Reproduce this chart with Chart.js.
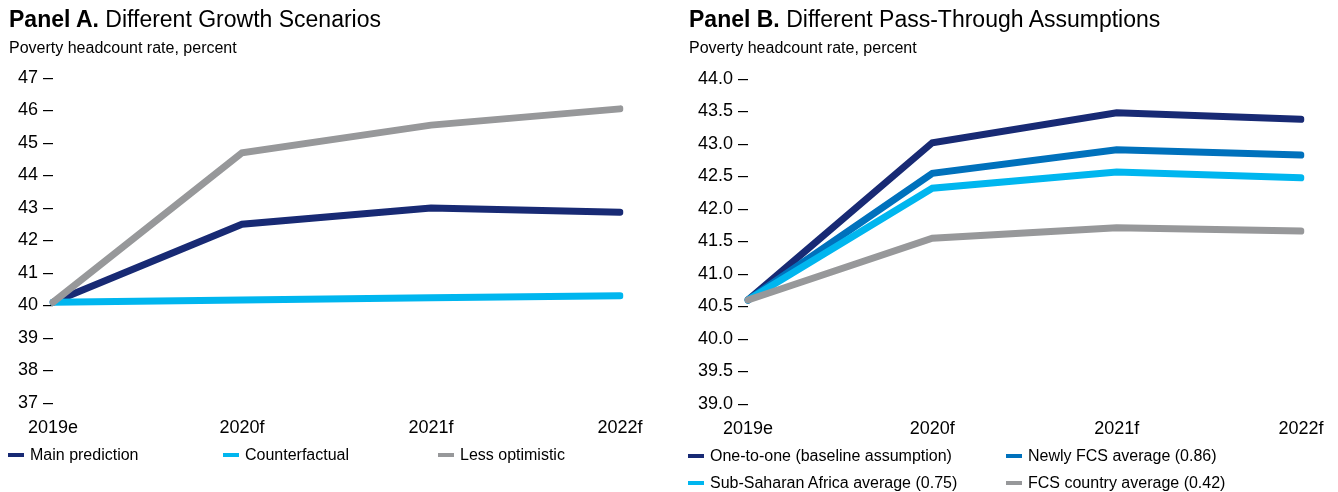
<!DOCTYPE html>
<html>
<head>
<meta charset="utf-8">
<script src="https://cdn.jsdelivr.net/npm/chart.js@4.4.0/dist/chart.umd.min.js"></script>
<style>
  body { margin: 0; width: 1338px; height: 492px; background: #fff; position: relative; overflow: hidden;
         font-family: Arial, "Liberation Sans", sans-serif; color: #000; }
  .panel { position: absolute; top: 0; width: 669px; height: 492px; }
  .panel canvas { position: absolute; left: 0; top: 0; }
  .title { position: absolute; top: 8px; font-size: 23px; line-height: 23px; white-space: nowrap; }
  .sub { position: absolute; top: 40px; font-size: 16px; line-height: 16px; white-space: nowrap; }
  .item { position: absolute; height: 20px; display: flex; align-items: center; white-space: nowrap; font-size: 16px; }
  .item i { display: inline-block; width: 16px; height: 4px; margin-right: 6px; }
</style>
</head>
<body>

<div class="panel" id="panelA" style="left:0">
  <canvas id="chartA" width="669" height="492"></canvas>
  <div class="title" style="left:9px"><b>Panel A.</b> Different Growth Scenarios</div>
  <div class="sub" style="left:9px">Poverty headcount rate, percent</div>
</div>

<div class="panel" id="panelB" style="left:669px">
  <canvas id="chartB" width="669" height="492"></canvas>
  <div class="title" style="left:20px"><b>Panel B.</b> Different Pass-Through Assumptions</div>
  <div class="sub" style="left:20px">Poverty headcount rate, percent</div>
</div>

<script>
const years = ['2019e', '2020f', '2021f', '2022f'];

// Panel A - growth scenarios
const mainPrediction = [40.1, 42.5, 43.0, 42.87];
const counterfactual = [40.1, 40.17, 40.24, 40.3];
const lessOptimistic = [40.1, 44.7, 45.55, 46.05];

// Panel B - pass-through assumptions
const oneToOne   = [40.6, 43.02, 43.48, 43.38];
const newlyFcs   = [40.6, 42.55, 42.91, 42.83];
const ssaAverage = [40.6, 42.32, 42.57, 42.48];
const fcsCountry = [40.6, 41.55, 41.71, 41.66];

const navy = '#182a74';
const blue = '#0071bc';
const cyan = '#00b6ef';
const gray = '#97989a';

function line(label, data, color, order) {
  return {
    label: label,
    data: data,
    borderColor: color,
    backgroundColor: color,
    borderWidth: 7,
    borderCapStyle: 'round',
    pointRadius: 0,
    tension: 0,
    fill: false,
    order: order
  };
}

function makeChart(id, datasets, yMin, yMax, step, decimals, axisWidth, pad) {
  return new Chart(document.getElementById(id), {
    type: 'line',
    data: { labels: years, datasets: datasets },
    options: {
      responsive: false,
      animation: false,
      devicePixelRatio: 1,
      layout: { padding: pad },
      plugins: { legend: { display: false }, tooltip: { enabled: false } },
      scales: {
        x: {
          offset: false,
          grid: { display: false, drawTicks: false },
          border: { display: false },
          ticks: { color: '#000', font: { family: 'Arial, "Liberation Sans"', size: 18 }, padding: 14, maxRotation: 0 },
          afterFit: s => { s.height = 40; }
        },
        y: {
          min: yMin,
          max: yMax,
          grid: { display: false, drawTicks: false },
          border: { display: false },
          ticks: {
            stepSize: step,
            color: '#000',
            padding: 0,
            font: { family: 'Arial, "Liberation Sans"', size: 18 },
            callback: v => (decimals ? v.toFixed(1) : v) + ' –'
          },
          afterFit: s => { s.width = axisWidth; }
        }
      }
    }
  });
}

// html legend built from the chart's datasets, laid out in fixed columns
function legend(panelId, chart, cols) {
  const panel = document.getElementById(panelId);
  chart.data.datasets.forEach((ds, i) => {
    const pos = cols[i];
    const el = document.createElement('div');
    el.className = 'item';
    el.style.left = pos[0] + 'px';
    el.style.top = pos[1] + 'px';
    el.innerHTML = '<i style="background:' + ds.borderColor + '"></i>' + ds.label;
    panel.appendChild(el);
  });
}

const chartA = makeChart('chartA', [
  line('Main prediction', mainPrediction, navy, 2),
  line('Counterfactual', counterfactual, cyan, 1),
  line('Less optimistic', lessOptimistic, gray, 0)
], 37, 47, 1, false, 53, { left: 0, top: 78, right: 49, bottom: 49 });

const chartB = makeChart('chartB', [
  line('One-to-one (baseline assumption)', oneToOne, navy, 3),
  line('Newly FCS average (0.86)', newlyFcs, blue, 2),
  line('Sub-Saharan Africa average (0.75)', ssaAverage, cyan, 1),
  line('FCS country average (0.42)', fcsCountry, gray, 0)
], 39, 44, 0.5, true, 79, { left: 0, top: 79, right: 37, bottom: 48 });

legend('panelA', chartA, [[8, 445], [223, 445], [438, 445]]);
legend('panelB', chartB, [[19, 446], [337, 446], [19, 473], [337, 473]]);
</script>
</body>
</html>
